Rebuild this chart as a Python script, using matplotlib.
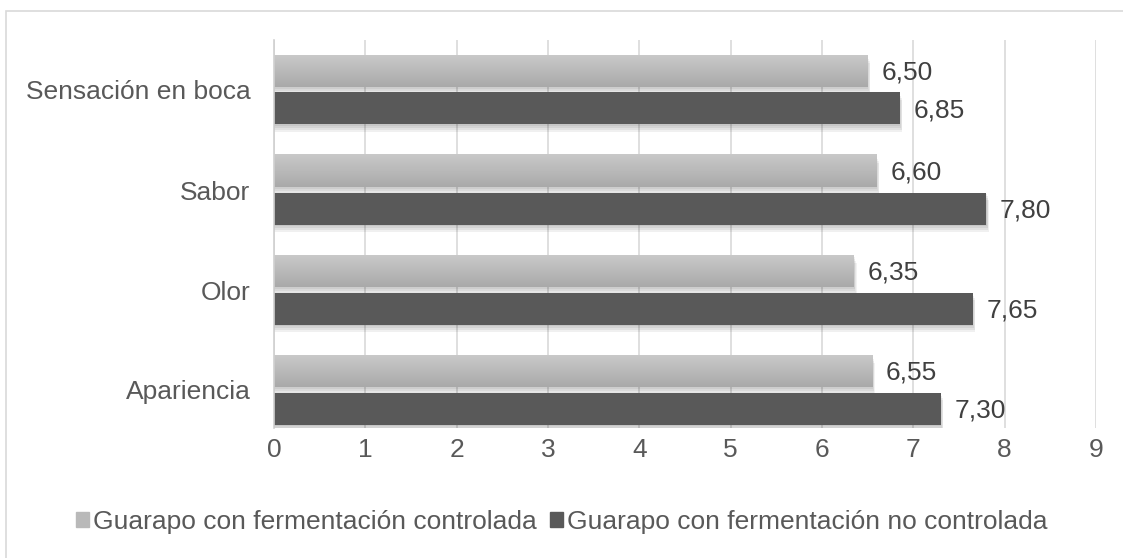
import numpy as np
import matplotlib.pyplot as plt
from matplotlib.patches import Rectangle
from matplotlib.colors import LinearSegmentedColormap

plt.rcParams['font.family'] = ['Liberation Sans', 'DejaVu Sans']

# datos
categorias = ['Apariencia', 'Olor', 'Sabor', 'Sensación en boca']
controlada = [6.55, 6.35, 6.60, 6.50]
no_controlada = [7.30, 7.65, 7.80, 6.85]
serie1 = 'Guarapo con fermentación controlada'
serie2 = 'Guarapo con fermentación no controlada'

fig = plt.figure(figsize=(11.23, 5.58), dpi=100)
ax = fig.add_axes([274/1123, 1-428/558, (1096-274)/1123, 388/558])

# marco exterior
fig.patches.append(Rectangle((6/1123, -0.1), 1.2, 1-11/558+0.1, transform=fig.transFigure,
                             fill=False, edgecolor='#d9d9d9', lw=1.2, zorder=0))

y = np.arange(len(categorias))
h = 0.32
off = 0.185
fs = 19

# gradiente para la serie clara
grad = np.linspace(0, 1, 64).reshape(-1, 1)
cm_claro = LinearSegmentedColormap.from_list('claro', ['#a9a9a9', '#c9c9c9'])

for i in range(len(categorias)):
    # sombras
    for k in range(4):
        d = 0.012 * (k + 1)
        ax.add_patch(Rectangle((0, y[i] + off - h/2 - d*1.6), controlada[i] + d*0.6, h,
                               color='black', alpha=0.05, lw=0, zorder=1))
        ax.add_patch(Rectangle((0, y[i] - off - h/2 - d*1.6), no_controlada[i] + d*0.6, h,
                               color='black', alpha=0.06, lw=0, zorder=1))
    ax.imshow(grad, cmap=cm_claro, aspect='auto', origin='lower',
              extent=(0, controlada[i], y[i] + off - h/2, y[i] + off + h/2), zorder=2)
    ax.barh(y[i] - off, no_controlada[i], height=h, color='#595959', zorder=2)
    ax.text(controlada[i] + 0.15, y[i] + off - 0.01, f'{controlada[i]:.2f}'.replace('.', ','),
            va='center', ha='left', fontsize=fs, color='#404040', zorder=3)
    ax.text(no_controlada[i] + 0.15, y[i] - off - 0.02, f'{no_controlada[i]:.2f}'.replace('.', ','),
            va='center', ha='left', fontsize=fs, color='#404040', zorder=3)

ax.set_xlim(0, 9)
ax.set_ylim(-0.38, 3.5)
ax.set_xticks(range(10))
ax.set_yticks(y)
ax.set_yticklabels(categorias)
ax.tick_params(axis='both', length=0, labelsize=fs, labelcolor='#595959')
ax.tick_params(axis='x', pad=7)
ax.tick_params(axis='y', pad=17)
ax.grid(axis='x', color='#d9d9d9', lw=1.2, zorder=0)
ax.set_axisbelow(True)
for s in ['top', 'right', 'bottom']:
    ax.spines[s].set_visible(False)
ax.spines['left'].set_color('#d0d0d0')
ax.spines['left'].set_linewidth(1.2)

# leyenda
h1 = Rectangle((0, 0), 1, 1, color='#b9b9b9')
h2 = Rectangle((0, 0), 1, 1, color='#595959')
leg = fig.legend([h1, h2], [serie1, serie2], loc='center', bbox_to_anchor=(0.5, 1-522/558),
                 ncol=2, frameon=False, fontsize=fs, handlelength=0.5, handleheight=0.5,
                 handletextpad=0.15, columnspacing=0.5)
for t in leg.get_texts():
    t.set_color('#595959')

fig.savefig('out.png', dpi=100)
